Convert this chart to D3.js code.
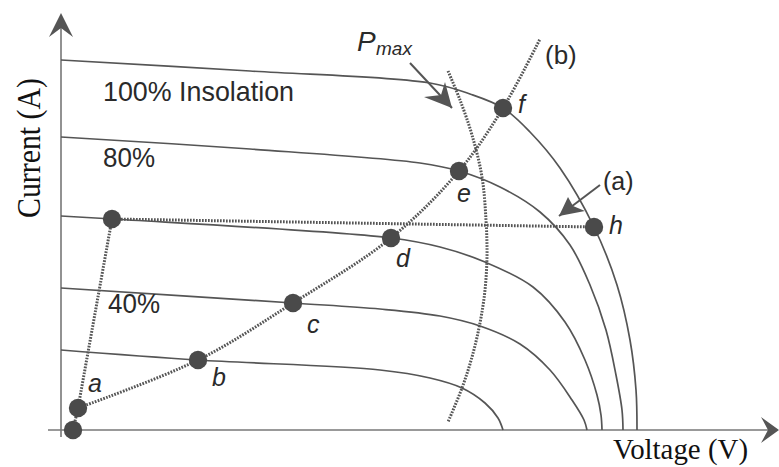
<!DOCTYPE html>
<html>
<head>
<meta charset="utf-8">
<script src="https://cdn.jsdelivr.net/npm/d3@7"></script>
<style>
  html, body { margin: 0; padding: 0; background: #fff; }
  svg { display: block; }
</style>
</head>
<body>
<svg id="chart" width="779" height="467"></svg>
<script>
// I-V characteristics of a PV module at several insolation levels (V, A)
const insolation = ["100%", "80%", "60%", "40%", "20%"];
const voltage100 = [0, 9.45, 18.45, 20.45, 22.1, 23.45, 24.95, 26.65, 27.8, 28.45, 28.75, 28.8];
const current100 = [9.25, 8.975, 8.675, 8.4, 8.05, 7.45, 6.55, 5.075, 3.625, 2.25, 1.0, 0];
const voltage80 = [0, 9.45, 17.95, 19.9, 21.95, 23.95, 25.45, 26.45, 27.25, 27.75, 28.05, 28.1];
const current80 = [7.325, 7.025, 6.675, 6.475, 6.075, 5.45, 4.625, 3.625, 2.5, 1.375, 0.5, 0];
const voltage60 = [0, 2.55, 16.5, 18.95, 21.2, 23.6, 25.2, 26.2, 26.8, 27.0, 27.05];
const current60 = [5.35, 5.275, 4.8, 4.575, 4.2, 3.575, 2.7, 1.75, 0.875, 0.375, 0];
const voltage40 = [0, 11.6, 15.95, 18.95, 20.95, 22.95, 24.45, 25.55, 26.15, 26.3];
const current40 = [3.55, 3.175, 3.025, 2.85, 2.6, 2.15, 1.5, 0.75, 0.25, 0];
const voltage20 = [0, 6.85, 15.95, 18.45, 20.05, 21.2, 21.85, 22.1];
const current20 = [2.0, 1.75, 1.5, 1.3, 1.05, 0.675, 0.3, 0];

// Maximum power locus across insolation levels
const pmaxVoltage = [19.35, 19.95, 20.55, 21.05, 21.25, 21.3, 21.2, 20.95, 20.55, 20.05, 19.35];
const pmaxCurrent = [8.975, 8.25, 7.375, 6.325, 5.25, 4.375, 3.5, 2.675, 1.825, 1.05, 0.2];

// Operating points
const pointNames = ["o", "a", "g", "b", "c", "d", "e", "f", "h"];
const pointVoltage = [0.6, 0.85, 2.55, 6.85, 11.6, 16.5, 19.9, 22.1, 26.65];
const pointCurrent = [0, 0.55, 5.275, 1.75, 3.175, 4.8, 6.475, 8.05, 5.075];

// Load line (b) continues past f
const loadEndVoltage = 23.95;
const loadEndCurrent = 9.775;

const svg = d3.select("#chart");
const x = d3.scaleLinear().domain([0, 35]).range([61, 761]);
const y = d3.scaleLinear().domain([0, 10]).range([430, 30]);

const zip = (vs, is) => vs.map((v, i) => [v, is[i]]);
const curves = [
  zip(voltage100, current100),
  zip(voltage80, current80),
  zip(voltage60, current60),
  zip(voltage40, current40),
  zip(voltage20, current20)
];
const pt = {};
pointNames.forEach((n, i) => { pt[n] = [pointVoltage[i], pointCurrent[i]]; });

const line = d3.line().x(d => x(d[0])).y(d => y(d[1])).curve(d3.curveCatmullRom.alpha(0.5));
const straight = d3.line().x(d => x(d[0])).y(d => y(d[1]));

const gray = "#555";

// Axes with arrowheads
svg.append("line").attr("x1", x(0)).attr("x2", x(0)).attr("y1", 437).attr("y2", 18)
  .attr("stroke", "#777").attr("stroke-width", 1.6);
svg.append("line").attr("x1", 48).attr("x2", 775).attr("y1", y(0)).attr("y2", y(0))
  .attr("stroke", "#777").attr("stroke-width", 1.6);

function chevron(tx, ty, angle, len, half, notch, color) {
  // arrowhead pointing along angle (radians), tip at (tx,ty)
  const c = Math.cos(angle), s = Math.sin(angle);
  const P = (u, v) => [tx - u * c - v * -s, ty - u * s - v * c];
  const p = [P(0, 0), P(len, half), P(len - notch, 0), P(len, -half)];
  svg.append("path").attr("d", "M" + p.map(q => q.join(",")).join("L") + "Z")
    .attr("fill", color);
}
chevron(x(0), 13, -Math.PI / 2, 24, 12, 9, "#555");
chevron(779, y(0), 0, 18, 13, 7, "#555");

// I-V curves
svg.append("g").selectAll("path").data(curves).join("path")
  .attr("d", line).attr("fill", "none").attr("stroke", gray).attr("stroke-width", 1.7);

// Dotted construction lines
const dotted = (sel) => sel.attr("fill", "none").attr("stroke", "#555")
  .attr("stroke-width", 3).attr("stroke-dasharray", "1.7,1.3");
dotted(svg.append("path").attr("d", line(zip(pmaxVoltage, pmaxCurrent))));
dotted(svg.append("path").attr("d", line([pt.a, pt.b, pt.c, pt.d, pt.e, pt.f, [loadEndVoltage, loadEndCurrent]])));
dotted(svg.append("path").attr("d", straight([pt.o, pt.a, pt.g])));
dotted(svg.append("path").attr("d", straight([pt.g, pt.h])));

// Operating point markers
svg.append("g").selectAll("circle").data(pointNames).join("circle")
  .attr("cx", n => x(pt[n][0])).attr("cy", n => y(pt[n][1])).attr("r", 9.2)
  .attr("fill", "#4a4a4a");

// Pointer arrows
function pointer(x1, y1, x2, y2, bx1, by1, bx2, by2, nx, ny) {
  svg.append("line").attr("x1", x1).attr("y1", y1).attr("x2", x2).attr("y2", y2)
    .attr("stroke", "#555").attr("stroke-width", 2);
  svg.append("path").attr("d", `M${x2},${y2}L${bx1},${by1}L${nx},${ny}L${bx2},${by2}Z`)
    .attr("fill", "#555");
}
pointer(410, 63, 452, 108, 424, 97, 445, 82, 441, 95);
pointer(600, 185, 559, 216, 568, 197, 585, 211, 573, 206);

// Text
const sans = "'Liberation Sans', Arial, sans-serif";
const serif = "'Liberation Serif', 'Times New Roman', serif";
const txt = (t, px, py, size, opts = {}) => {
  const el = svg.append("text").attr("x", px).attr("y", py).text(t)
    .attr("font-family", opts.family || sans).attr("font-size", size)
    .attr("fill", opts.fill || "#2a2a2a");
  if (opts.italic) el.attr("font-style", "italic");
  if (opts.len) el.attr("textLength", opts.len).attr("lengthAdjust", "spacingAndGlyphs");
  return el;
};
txt(insolation[0] + " Insolation", 103, 101, 28, { len: 191 });
txt(insolation[1], 103, 167, 28, { len: 52 });
txt(insolation[3], 108, 313, 28, { len: 52 });

txt("P", 357, 51, 28, { italic: true });
txt("max", 376, 55, 19, { italic: true });
txt("(b)", 545, 64, 26);
txt("(a)", 603, 190, 25);

const letterX = [88, 212, 307, 396, 457, 518, 609];
const letterY = [392, 386, 333, 267, 202, 113, 234];
["a", "b", "c", "d", "e", "f", "h"].forEach((l, i) => txt(l, letterX[i], letterY[i], 25, { italic: true }));

txt("Voltage (V)", 613, 459, 29, { family: serif, fill: "#111", len: 135 });
txt("Current (A)", 0, 0, 34, { family: serif, fill: "#111", len: 140 })
  .attr("transform", "translate(40,218) rotate(-90)");
</script>
</body>
</html>
